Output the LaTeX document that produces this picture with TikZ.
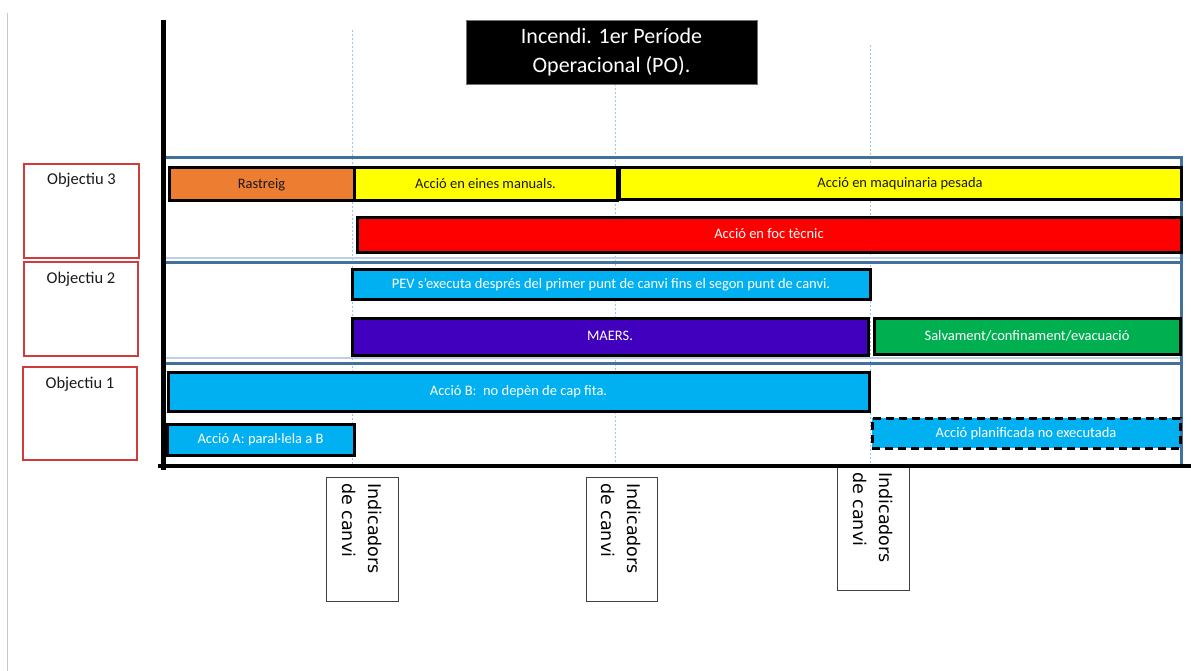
\documentclass[tikz,border=0pt]{standalone}
\usepackage{fontspec}
\setmainfont{Carlito}
\newfontfamily\indfont{DejaVu Sans}
\usetikzlibrary{fit}
\definecolor{cOrange}{HTML}{ED7D31}
\definecolor{cYellow}{HTML}{FFFF00}
\definecolor{cRed}{HTML}{FF0000}
\definecolor{cLBlue}{HTML}{00B0F0}
\definecolor{cPurple}{RGB}{64,0,190}
\definecolor{cGreen}{HTML}{00B050}
\definecolor{cSteel}{HTML}{41719C}
\definecolor{cSteelLight}{HTML}{BDD0E6}
\definecolor{cObjRed}{HTML}{D03C3C}
\definecolor{cDot}{HTML}{9DC3E6}
\definecolor{cDark}{HTML}{1A1A1A}
\definecolor{cGrayLine}{HTML}{C8C8C8}
\tikzset{
  bar/.style={draw=black, line width=3pt, inner sep=0pt, text=white,
    font=\fontsize{14.5}{17}\selectfont, text height=10pt, text depth=2pt},
  darkbar/.style={bar, text=cDark},
  planbar/.style={bar, dash pattern=on 8pt off 5pt},
  objbox/.style={draw=cObjRed, line width=1.2pt, inner sep=0pt},
  objtext/.style={font=\fontsize{16.5}{19}\selectfont, text=cDark, anchor=base, inner sep=0pt},
  indbox/.style={draw=black!75, line width=1pt, fill=white, inner sep=0pt},
  indtext/.style={font=\indfont\fontsize{17.5}{26}\selectfont, rotate=-90, align=left,
    anchor=west, inner sep=0pt, text=black},
  steel/.style={draw=cSteel, line width=3pt},
  steellight/.style={draw=cSteelLight, line width=1.5pt},
  guide/.style={draw=cDot, line width=0.9pt, dash pattern=on 2pt off 2pt},
  axis/.style={draw=black},
  titlebox/.style={fill=black, draw=black!55, line width=0.8pt, inner sep=0pt,
    text=white, align=center, font=\fontsize{22}{29}\selectfont}
}
\begin{document}
\begin{tikzpicture}[x=1pt,y=-1pt]
\useasboundingbox (0,0) rectangle (1191,671);
\fill[white] (0,0) rectangle (1191,671);
% left page edge line
\draw[draw=cGrayLine, line width=1pt] (7,13) -- (7,671);

% guide lines
\coordinate (g1t) at (352,30);  \coordinate (g1b) at (352,465);
\coordinate (g2t) at (615,84);  \coordinate (g2b) at (615,465);
\coordinate (g3t) at (870,45);  \coordinate (g3b) at (870,465);
\draw[guide] (g1t) -- (g1b);
\draw[guide] (g2t) -- (g2b);
\draw[guide] (g3t) -- (g3b);

% title
\node[titlebox, minimum width=291pt, minimum height=64pt] (title) at (611.5,52.5)
  {Incendi. 1er Període\\Operacional (PO).};

% steel frame lines
\coordinate (s0l) at (163,158);   \coordinate (s0r) at (1181,158);
\coordinate (s1l) at (163,262.5); \coordinate (s1r) at (1181,262.5);
\coordinate (s2l) at (163,363.5); \coordinate (s2r) at (1181,363.5);
\coordinate (sbr) at (1181,465);
\coordinate (t1l) at (163,258);   \coordinate (t1r) at (1181,258);
\coordinate (t2l) at (163,358);   \coordinate (t2r) at (1181,358);
\draw[steellight] (t1l) -- (t1r);
\draw[steellight] (t2l) -- (t2r);
\draw[steel] (s0l) -- (s0r) -- (sbr);
\draw[steel] (s1l) -- (s1r);
\draw[steel] (s2l) -- (s2r);

% objective boxes
\node[objbox, fit={(24,164)(139,258)}] (obj3) {};
\node[objbox, fit={(24,262)(138,356)}] (obj2) {};
\node[objbox, fit={(23,367)(137,460)}] (obj1) {};
\node[objtext] (obj3t) at (81.5,185) {Objectiu 3};
\node[objtext] (obj2t) at (81,283) {Objectiu 2};
\node[objtext] (obj1t) at (80,388) {Objectiu 1};

% bars - Objectiu 3
\node[darkbar, fill=cOrange, minimum width=185pt, minimum height=33pt] (rast) at (261.5,184.5) {Rastreig};
\node[darkbar, fill=cYellow, minimum width=263pt, minimum height=33pt] (eines) at (485.5,184.5) {Acció en eines manuals.};
\node[darkbar, fill=cYellow, minimum width=562pt, minimum height=32pt] (maq) at (900,184) {Acció en maquinaria pesada};
\node[bar, fill=cRed, minimum width=824pt, minimum height=34pt] (foc) at (769,235) {Acció en foc tècnic};
% Objectiu 2
\node[bar, fill=cLBlue, minimum width=518pt, minimum height=30pt] (pev) at (611,284) {PEV s’executa després del primer punt de canvi fins el segon punt de canvi.};
\node[bar, fill=cPurple, minimum width=516pt, minimum height=37pt] (maers) at (610,336.5) {MAERS.};
\node[bar, fill=cGreen, minimum width=306pt, minimum height=36pt] (salv) at (1027,336) {Salvament/confinament/evacuació};
% Objectiu 1
\node[bar, fill=cLBlue, minimum width=701pt, minimum height=39pt] (accB) at (518.5,391.5) {Acció B:\ \ no depèn de cap fita.};
\node[bar, fill=cLBlue, minimum width=187pt, minimum height=31pt] (accA) at (260.5,439.5) {Acció A: paral·lela a B};
\node[planbar, fill=cLBlue, minimum width=308pt, minimum height=30pt] (plan) at (1026,433) {Acció planificada no executada};

% indicator boxes
\node[indbox, fit={(326,477)(398,601)}] (ind1) {};
\node[indbox, fit={(586,477)(657,601)}] (ind2) {};
\node[indbox, fit={(837,466)(909,590)}] (ind3) {};
\node[indtext] (ind1t) at (362,483) {Indicadors\\de canvi};
\node[indtext] (ind2t) at (621.5,483) {Indicadors\\de canvi};
\node[indtext] (ind3t) at (873,472) {Indicadors\\de canvi};

% axes
\coordinate (axT) at (163.5,20);  \coordinate (axB) at (163.5,470);
\coordinate (axL) at (158,465.5); \coordinate (axR) at (1191,465.5);
\draw[axis, line width=5pt] (axT) -- (axB);
\draw[axis, line width=4pt] (axL) -- (axR);
\end{tikzpicture}
\end{document}
